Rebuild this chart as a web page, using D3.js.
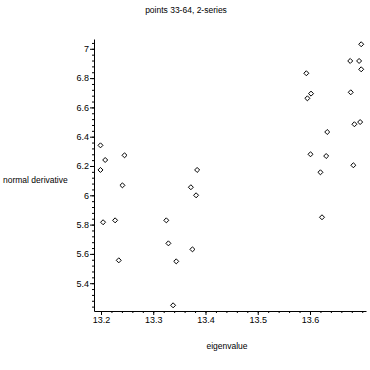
<!DOCTYPE html>
<html>
<head>
<meta charset="utf-8">
<script src="https://cdn.jsdelivr.net/npm/d3@7"></script>
<style>
  body { margin: 0; background: #fff; }
  text { font-family: "Liberation Sans", Arial, sans-serif; fill: #000; }
</style>
</head>
<body>
<div id="plot"></div>
<script>
// series 1: points 33-48
const eigenA = [13.199, 13.208, 13.245, 13.199, 13.384, 13.241, 13.372, 13.382,
                13.204, 13.227, 13.325, 13.329, 13.375, 13.234, 13.344, 13.338];
const derivA = [6.341, 6.241, 6.273, 6.173, 6.173, 6.068, 6.055, 6.000,
                5.816, 5.829, 5.829, 5.672, 5.631, 5.556, 5.549, 5.249];
// series 2: points 49-64
const eigenB = [13.698, 13.677, 13.694, 13.698, 13.593, 13.678, 13.602, 13.595,
                13.685, 13.696, 13.633, 13.601, 13.631, 13.683, 13.620, 13.623];
const derivB = [7.031, 6.917, 6.917, 6.860, 6.833, 6.703, 6.694, 6.662,
                6.485, 6.500, 6.432, 6.280, 6.268, 6.205, 6.157, 5.850];

const xTicks = [13.2, 13.3, 13.4, 13.5, 13.6];
const yTicks = [5.4, 5.6, 5.8, 6, 6.2, 6.4, 6.6, 6.8, 7];
const xMinor = d3.range(13.2, 13.71, 0.02);
const yMinor = d3.range(5.24, 7.07, 0.04);

const width = 370;
const height = 370;

const svg = d3.select("#plot")
    .append("svg")
    .attr("width", width)
    .attr("height", height);

const xScale = d3.scaleLinear()
    .domain([13.1866, 13.7072])
    .range([94, 366]);

const yScale = d3.scaleLinear()
    .domain([5.2102, 7.0669])
    .range([311, 39]);

// minor ticks
svg.append("g")
    .attr("transform", "translate(0,311)")
    .call(d3.axisBottom(xScale).tickValues(xMinor).tickSize(2).tickFormat(""))
    .call(g => g.select(".domain").remove());

svg.append("g")
    .attr("transform", "translate(94,0)")
    .call(d3.axisLeft(yScale).tickValues(yMinor).tickSize(2).tickFormat(""))
    .call(g => g.select(".domain").remove());

// major ticks + axis lines
svg.append("g")
    .attr("transform", "translate(0,311)")
    .call(d3.axisBottom(xScale).tickValues(xTicks).tickSize(4).tickSizeOuter(0).tickPadding(2)
        .tickFormat(d3.format(".1f")))
    .call(g => g.selectAll("text").style("font-size", "9px"));

svg.append("g")
    .attr("transform", "translate(94,0)")
    .call(d3.axisLeft(yScale).tickValues(yTicks).tickSize(4).tickSizeOuter(0).tickPadding(1)
        .tickFormat(d => d3.format("~g")(d)))
    .call(g => g.selectAll("text").style("font-size", "9px"));

svg.selectAll(".domain").attr("stroke", "#000");

// points
const diamond = d3.symbol().type(d3.symbolDiamond2).size(16);
const pts = eigenA.map((x, i) => ({ x, y: derivA[i] }))
    .concat(eigenB.map((x, i) => ({ x, y: derivB[i] })));

svg.append("g")
    .selectAll("path")
    .data(pts)
    .join("path")
    .attr("d", diamond)
    .attr("transform", d => `translate(${xScale(d.x)},${yScale(d.y)})`)
    .attr("fill", "none")
    .attr("stroke", "#000")
    .attr("stroke-width", 1);

// labels
svg.append("text")
    .attr("x", 186)
    .attr("y", 13)
    .attr("text-anchor", "middle")
    .style("font-size", "8.5px")
    .text("points 33-64, 2-series");

svg.append("text")
    .attr("x", 3)
    .attr("y", 183)
    .style("font-size", "8.5px")
    .text("normal derivative");

svg.append("text")
    .attr("x", 227)
    .attr("y", 349)
    .attr("text-anchor", "middle")
    .style("font-size", "8.5px")
    .text("eigenvalue");
</script>
</body>
</html>
